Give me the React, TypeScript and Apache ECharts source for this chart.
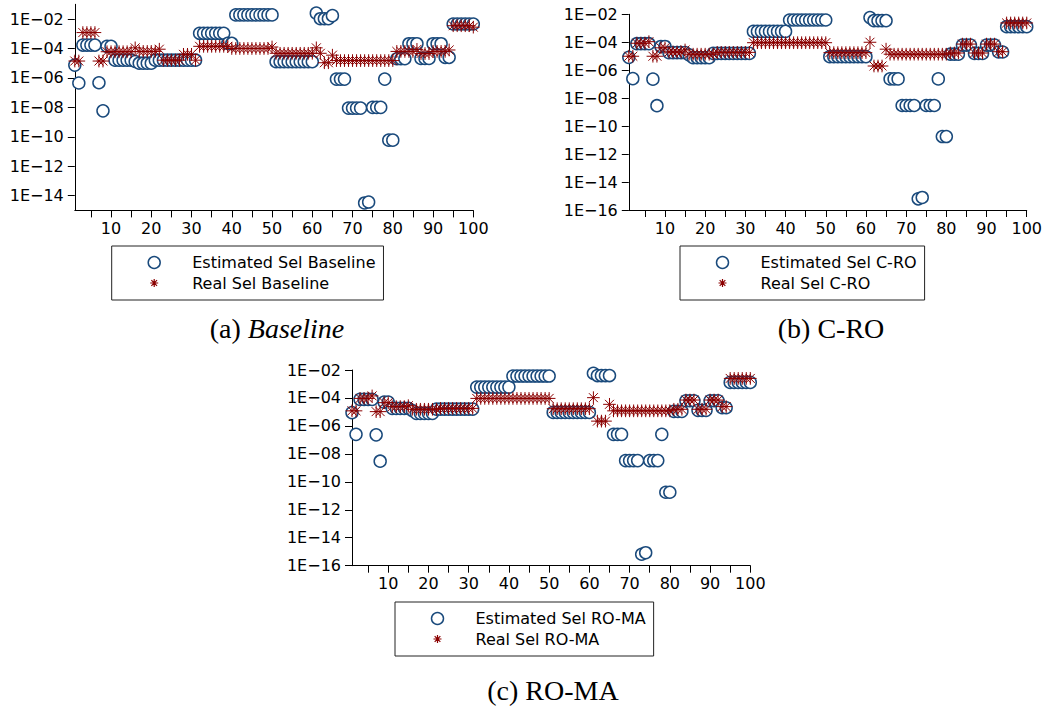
import React, { useEffect, useRef } from 'react';
import * as echarts from 'echarts';

// ---------- data ----------
const runIds = Array.from({ length: 100 }, (_, i) => i + 1);

const estBaseline = [
  7.4e-6, 4.5e-7, 1.7e-4, 1.7e-4, 1.7e-4, 1.7e-4, 4.7e-7, 5.8e-9, 1.4e-4, 1.4e-4,
  1.6e-5, 1.6e-5, 1.6e-5, 1.6e-5, 1.6e-5, 1.3e-5, 1.0e-5, 1.0e-5, 1.0e-5, 1.0e-5,
  1.6e-5, 1.6e-5, 1.6e-5, 1.6e-5, 1.6e-5, 1.6e-5, 1.6e-5, 1.6e-5, 1.6e-5, 1.6e-5,
  1.6e-5, 1.07e-3, 1.07e-3, 1.07e-3, 1.07e-3, 1.07e-3, 1.07e-3, 1.07e-3, 2.2e-4, 2.2e-4,
  1.9e-2, 1.9e-2, 1.9e-2, 1.9e-2, 1.9e-2, 1.9e-2, 1.9e-2, 1.9e-2, 1.9e-2, 1.9e-2,
  1.26e-5, 1.26e-5, 1.26e-5, 1.26e-5, 1.26e-5, 1.26e-5, 1.26e-5, 1.26e-5, 1.26e-5, 1.26e-5,
  2.5e-2, 1.05e-2, 1.05e-2, 1.05e-2, 1.7e-2, 8.3e-7, 8.3e-7, 8.3e-7, 8.9e-9, 8.9e-9,
  8.9e-9, 8.9e-9, 3.2e-15, 3.7e-15, 1.0e-8, 1.0e-8, 1.0e-8, 8.3e-7, 5.9e-11, 5.9e-11,
  2.0e-5, 2.0e-5, 2.0e-5, 2.1e-4, 2.1e-4, 2.1e-4, 2.1e-5, 2.1e-5, 2.1e-5, 2.1e-4,
  2.1e-4, 2.1e-4, 2.5e-5, 2.5e-5, 4.6e-3, 4.6e-3, 4.6e-3, 4.6e-3, 4.6e-3, 4.6e-3,
];
const realBaseline = [
  1.4e-5, 1.4e-5, 1.2e-3, 1.2e-3, 1.2e-3, 1.2e-3, 1.4e-5, 1.4e-5, 6.0e-5, 6.0e-5,
  6.0e-5, 6.0e-5, 6.0e-5, 6.0e-5, 6.0e-5, 1.1e-4, 6.3e-5, 6.3e-5, 6.3e-5, 6.3e-5,
  6.3e-5, 8.9e-5, 1.6e-5, 1.6e-5, 1.6e-5, 1.6e-5, 1.6e-5, 4.0e-5, 4.0e-5, 4.0e-5,
  1.6e-5, 1.4e-4, 1.4e-4, 1.4e-4, 1.4e-4, 1.4e-4, 1.4e-4, 1.4e-4, 1.4e-4, 1.0e-4,
  1.0e-4, 1.0e-4, 1.0e-4, 1.0e-4, 1.0e-4, 1.0e-4, 1.0e-4, 1.0e-4, 1.0e-4, 1.26e-4,
  4.7e-5, 4.7e-5, 4.7e-5, 4.7e-5, 4.7e-5, 4.7e-5, 4.7e-5, 4.7e-5, 4.7e-5, 4.7e-5,
  1.1e-4, 4.7e-5, 1.07e-5, 1.07e-5, 3.5e-5, 1.5e-5, 1.5e-5, 1.5e-5, 1.5e-5, 1.5e-5,
  1.5e-5, 1.5e-5, 1.5e-5, 1.5e-5, 1.5e-5, 1.5e-5, 1.5e-5, 1.5e-5, 1.5e-5, 1.5e-5,
  6.3e-5, 6.3e-5, 6.3e-5, 6.3e-5, 6.3e-5, 8.7e-5, 4.5e-5, 4.5e-5, 4.5e-5, 6.3e-5,
  6.3e-5, 6.3e-5, 6.3e-5, 7.9e-5, 3.5e-3, 3.5e-3, 3.5e-3, 3.5e-3, 3.5e-3, 2.8e-3,
];

const estCRO = [
  8.3e-6, 2.5e-7, 7.9e-5, 7.9e-5, 7.9e-5, 7.9e-5, 2.3e-7, 2.9e-9, 5.0e-5, 5.0e-5,
  1.8e-5, 1.8e-5, 1.8e-5, 1.8e-5, 1.8e-5, 1.26e-5, 7.9e-6, 7.9e-6, 7.9e-6, 7.9e-6,
  7.9e-6, 1.6e-5, 1.6e-5, 1.6e-5, 1.6e-5, 1.6e-5, 1.6e-5, 1.6e-5, 1.6e-5, 1.6e-5,
  1.6e-5, 6.0e-4, 6.0e-4, 6.0e-4, 6.0e-4, 6.0e-4, 6.0e-4, 6.0e-4, 6.0e-4, 6.0e-4,
  3.9e-3, 3.9e-3, 3.9e-3, 3.9e-3, 3.9e-3, 3.9e-3, 3.9e-3, 3.9e-3, 3.9e-3, 3.9e-3,
  9.3e-6, 9.3e-6, 9.3e-6, 9.3e-6, 9.3e-6, 9.3e-6, 9.3e-6, 9.3e-6, 9.3e-6, 9.3e-6,
  5.8e-3, 3.5e-3, 3.5e-3, 3.5e-3, 3.5e-3, 2.4e-7, 2.4e-7, 2.4e-7, 3.0e-9, 3.0e-9,
  3.0e-9, 3.0e-9, 6.3e-16, 7.9e-16, 3.0e-9, 3.0e-9, 3.0e-9, 2.4e-7, 1.8e-11, 1.8e-11,
  1.4e-5, 1.4e-5, 1.4e-5, 6.3e-5, 6.3e-5, 6.3e-5, 1.6e-5, 1.6e-5, 1.6e-5, 6.3e-5,
  6.3e-5, 6.3e-5, 2.0e-5, 2.0e-5, 1.3e-3, 1.3e-3, 1.3e-3, 1.3e-3, 1.3e-3, 1.3e-3,
];
const realCRO = [
  1.0e-5, 1.0e-5, 8.5e-5, 8.5e-5, 8.5e-5, 1.1e-4, 1.0e-5, 1.0e-5, 4.0e-5, 4.0e-5,
  2.0e-5, 2.0e-5, 2.0e-5, 2.0e-5, 2.8e-5, 1.4e-5, 1.4e-5, 1.4e-5, 1.4e-5, 1.4e-5,
  1.4e-5, 1.4e-5, 1.9e-5, 1.9e-5, 1.9e-5, 1.9e-5, 1.9e-5, 1.9e-5, 1.9e-5, 1.9e-5,
  1.9e-5, 9.3e-5, 9.3e-5, 9.3e-5, 9.3e-5, 9.3e-5, 9.3e-5, 9.3e-5, 9.3e-5, 9.3e-5,
  9.3e-5, 9.3e-5, 9.3e-5, 9.3e-5, 9.3e-5, 9.3e-5, 9.3e-5, 9.3e-5, 9.3e-5, 9.3e-5,
  1.8e-5, 1.8e-5, 1.8e-5, 1.8e-5, 1.8e-5, 1.8e-5, 1.8e-5, 1.8e-5, 1.8e-5, 1.8e-5,
  1.0e-4, 2.0e-6, 2.0e-6, 2.0e-6, 3.2e-5, 1.4e-5, 1.4e-5, 1.4e-5, 1.4e-5, 1.4e-5,
  1.4e-5, 1.4e-5, 1.4e-5, 1.4e-5, 1.4e-5, 1.4e-5, 1.4e-5, 1.4e-5, 1.4e-5, 1.4e-5,
  1.7e-5, 1.7e-5, 1.7e-5, 7.4e-5, 7.4e-5, 7.4e-5, 1.7e-5, 1.7e-5, 1.7e-5, 7.4e-5,
  7.4e-5, 7.4e-5, 2.1e-5, 2.1e-5, 2.4e-3, 2.4e-3, 2.4e-3, 2.4e-3, 2.4e-3, 2.4e-3,
];

const estROMA = [
  8.9e-6, 2.5e-7, 7.9e-5, 7.9e-5, 7.9e-5, 7.9e-5, 2.3e-7, 3.0e-9, 5.0e-5, 5.0e-5,
  1.8e-5, 1.8e-5, 1.8e-5, 1.8e-5, 1.8e-5, 1.26e-5, 7.9e-6, 7.9e-6, 7.9e-6, 7.9e-6,
  7.9e-6, 1.6e-5, 1.6e-5, 1.6e-5, 1.6e-5, 1.6e-5, 1.6e-5, 1.6e-5, 1.6e-5, 1.6e-5,
  1.6e-5, 6.0e-4, 6.0e-4, 6.0e-4, 6.0e-4, 6.0e-4, 6.0e-4, 6.0e-4, 6.0e-4, 6.0e-4,
  3.7e-3, 3.7e-3, 3.7e-3, 3.7e-3, 3.7e-3, 3.7e-3, 3.7e-3, 3.7e-3, 3.7e-3, 3.7e-3,
  9.3e-6, 9.3e-6, 9.3e-6, 9.3e-6, 9.3e-6, 9.3e-6, 9.3e-6, 9.3e-6, 9.3e-6, 9.3e-6,
  5.8e-3, 4.0e-3, 4.0e-3, 4.0e-3, 4.0e-3, 2.5e-7, 2.5e-7, 2.5e-7, 3.3e-9, 3.3e-9,
  3.3e-9, 3.3e-9, 6.6e-16, 8.5e-16, 3.3e-9, 3.3e-9, 3.3e-9, 2.5e-7, 1.8e-11, 1.8e-11,
  1.1e-5, 1.1e-5, 1.1e-5, 6.3e-5, 6.3e-5, 6.3e-5, 1.3e-5, 1.3e-5, 1.3e-5, 6.3e-5,
  6.3e-5, 6.3e-5, 2.0e-5, 2.0e-5, 1.3e-3, 1.3e-3, 1.3e-3, 1.3e-3, 1.3e-3, 1.3e-3,
];
const realROMA = [
  1.2e-5, 1.2e-5, 9.3e-5, 9.3e-5, 9.3e-5, 1.4e-4, 1.05e-5, 1.05e-5, 4.6e-5, 4.6e-5,
  2.4e-5, 2.4e-5, 2.4e-5, 2.4e-5, 2.8e-5, 1.55e-5, 1.55e-5, 1.55e-5, 1.55e-5, 1.55e-5,
  1.55e-5, 1.55e-5, 1.8e-5, 1.8e-5, 1.8e-5, 1.8e-5, 1.8e-5, 1.8e-5, 1.8e-5, 1.8e-5,
  1.8e-5, 9.3e-5, 9.3e-5, 9.3e-5, 9.3e-5, 9.3e-5, 9.3e-5, 9.3e-5, 9.3e-5, 9.3e-5,
  9.3e-5, 9.3e-5, 9.3e-5, 9.3e-5, 9.3e-5, 9.3e-5, 9.3e-5, 9.3e-5, 9.3e-5, 9.3e-5,
  1.7e-5, 1.7e-5, 1.7e-5, 1.7e-5, 1.7e-5, 1.7e-5, 1.7e-5, 1.7e-5, 1.7e-5, 1.7e-5,
  1.05e-4, 2.2e-6, 2.2e-6, 2.2e-6, 3.5e-5, 1.2e-5, 1.2e-5, 1.2e-5, 1.2e-5, 1.2e-5,
  1.2e-5, 1.2e-5, 1.2e-5, 1.2e-5, 1.2e-5, 1.2e-5, 1.2e-5, 1.2e-5, 1.2e-5, 1.2e-5,
  1.55e-5, 1.55e-5, 1.55e-5, 7.1e-5, 7.1e-5, 7.1e-5, 1.55e-5, 1.55e-5, 1.55e-5, 7.1e-5,
  7.1e-5, 7.1e-5, 2.4e-5, 2.4e-5, 2.5e-3, 2.5e-3, 2.5e-3, 2.5e-3, 2.5e-3, 2.5e-3,
];

const xTickValues = [5, 10, 15, 20, 25, 30, 35, 40, 45, 50, 55, 60, 65, 70, 75, 80, 85, 90, 95, 100];
const xLabelValues = [10, 20, 30, 40, 50, 60, 70, 80, 90, 100];
const yTicksBaseline = [1e-14, 1e-12, 1e-10, 1e-8, 1e-6, 1e-4, 1e-2];
const yTicksOthers = [1e-16, 1e-14, 1e-12, 1e-10, 1e-8, 1e-6, 1e-4, 1e-2];

const legendNames = [
  ['Estimated Sel Baseline', 'Real Sel Baseline'],
  ['Estimated Sel C-RO', 'Real Sel C-RO'],
  ['Estimated Sel RO-MA', 'Real Sel RO-MA'],
];

// ---------- styling ----------
const BLUE = '#1a4a7c';
const RED = '#8b0000';
const SANS = 'DejaVu Sans';
const SERIF = 'Liberation Serif';
const STAR =
  'path://M-15,-15M15,15M0,-10L0,10M-10,0L10,0M-7.07,-7.07L7.07,7.07M-7.07,7.07L7.07,-7.07';

const panels = [
  { grid: { left: 74.8, top: 4.3, width: 398.5, height: 206.1 }, yMin: 1e-15, yMax: 1e-1, yTicks: yTicksBaseline, est: estBaseline, real: realBaseline, legend: { left: 111.7, top: 246 } },
  { grid: { left: 628.8, top: 14.3, width: 398.5, height: 195.7 }, yMin: 1e-16, yMax: 1e-2, yTicks: yTicksOthers, est: estCRO, real: realCRO, legend: { left: 680, top: 246 } },
  { grid: { left: 352, top: 370, width: 398.3, height: 195.7 }, yMin: 1e-16, yMax: 1e-2, yTicks: yTicksOthers, est: estROMA, real: realROMA, legend: { left: 395, top: 602 } },
];

function fmtExp(v: number) {
  const e = Math.round(Math.log10(v));
  const a = Math.abs(e);
  return '1E' + (e < 0 ? '\u2212' : '+') + (a < 10 ? '0' : '') + a;
}

export default function App() {
  const ref = useRef<HTMLDivElement>(null);
  useEffect(() => {
    if (!ref.current) return;
    const chart = echarts.init(ref.current, undefined, { renderer: 'svg' });
    const axisText = { fontFamily: SANS, fontSize: 16, color: '#000' };
    const option: any = {
      animation: false,
      backgroundColor: '#fff',
      grid: panels.map((p) => ({ ...p.grid, containLabel: false })),
      xAxis: panels.map((p, i) => ({
        gridIndex: i,
        type: 'value',
        min: 1,
        max: 100,
        axisLine: { show: true, onZero: false, lineStyle: { color: '#000', width: 1 } },
        axisTick: { show: true, length: 7, customValues: xTickValues, lineStyle: { color: '#000', width: 1 } },
        axisLabel: { customValues: xLabelValues, margin: 10, ...axisText },
        splitLine: { show: false },
      })),
      yAxis: panels.map((p, i) => ({
        gridIndex: i,
        type: 'log',
        logBase: 10,
        min: p.yMin,
        max: p.yMax,
        axisLine: { show: true, lineStyle: { color: '#000', width: 1 } },
        axisTick: { show: true, length: 7, customValues: p.yTicks, lineStyle: { color: '#000', width: 1 } },
        axisLabel: { customValues: p.yTicks, formatter: fmtExp, margin: 11, ...axisText },
        splitLine: { show: false },
      })),
      legend: panels.map((p, i) => ({
        orient: 'vertical',
        left: p.legend.left,
        top: p.legend.top,
        itemWidth: 66,
        itemHeight: 12,
        itemGap: 4,
        padding: [8.5, 8, 8.5, 34],
        borderColor: '#222',
        borderWidth: 1,
        borderRadius: 0,
        selectedMode: false,
        textStyle: { fontFamily: SANS, fontSize: 16, color: '#000', lineHeight: 16 },
        data: [
          { name: legendNames[i][0], icon: 'circle', itemStyle: { color: '#fff', borderColor: BLUE, borderWidth: 1.5 } },
          { name: legendNames[i][1], icon: STAR, itemStyle: { color: 'none', borderColor: RED, borderWidth: 1.2 } },
        ],
      })),
      series: panels.flatMap((p, i) => [
        {
          type: 'scatter',
          name: legendNames[i][0],
          xAxisIndex: i,
          yAxisIndex: i,
          data: runIds.map((x, k) => [x, p.est[k]]),
          symbol: 'circle',
          symbolSize: 12,
          clip: false,
          itemStyle: { color: '#fff', borderColor: BLUE, borderWidth: 1.5, opacity: 1 },
          z: 2,
        },
        {
          type: 'scatter',
          name: legendNames[i][1],
          xAxisIndex: i,
          yAxisIndex: i,
          data: runIds.map((x, k) => [x, p.real[k]]),
          symbol: STAR,
          symbolSize: 19,
          clip: false,
          itemStyle: { color: 'none', borderColor: RED, borderWidth: 1, opacity: 1 },
          z: 3,
        },
      ]),
      graphic: [
        {
          type: 'text',
          x: 277,
          y: 328,
          style: {
            text: '(a) {i|Baseline}',
            fontFamily: SERIF,
            fontSize: 28,
            fill: '#000',
            align: 'center',
            verticalAlign: 'middle',
            rich: { i: { fontFamily: SERIF, fontSize: 28, fontStyle: 'italic', fill: '#000' } },
          },
        },
        {
          type: 'text',
          x: 831,
          y: 328,
          style: { text: '(b) C-RO', fontFamily: SERIF, fontSize: 28, fill: '#000', align: 'center', verticalAlign: 'middle' },
        },
        {
          type: 'text',
          x: 553,
          y: 690,
          style: { text: '(c) RO-MA', fontFamily: SERIF, fontSize: 28, fill: '#000', align: 'center', verticalAlign: 'middle' },
        },
      ],
    };
    chart.setOption(option);
    return () => chart.dispose();
  }, []);
  return (
    <div
      ref={ref}
      style={{ position: 'absolute', left: 0, top: 0, width: 1045, height: 711, background: '#fff' }}
    />
  );
}
